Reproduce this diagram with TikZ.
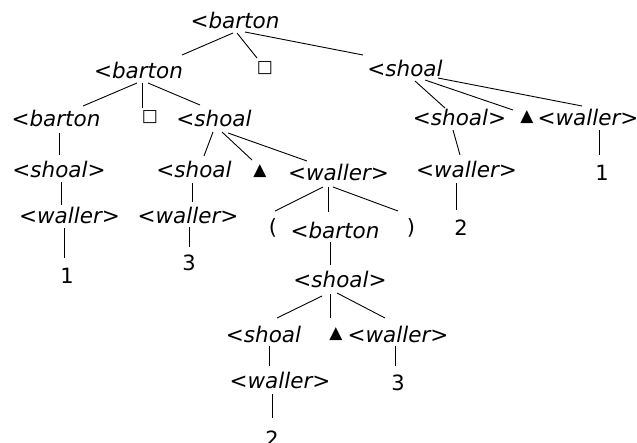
\documentclass[tikz,border=0pt]{standalone}
\usepackage{fontspec}
\setmainfont{DejaVu Sans}
\begin{document}
\begin{tikzpicture}[x=1pt,y=-1pt,
  lab/.style={inner sep=0pt,anchor=base,font=\fontsize{21.5}{25}\selectfont\itshape},
  num/.style={inner sep=0pt,anchor=base,font=\fontsize{21}{25}\selectfont},
  sym/.style={inner sep=0pt,anchor=center,font=\fontsize{17}{20}\selectfont},
  edge/.style={line width=0.9pt}]
\useasboundingbox (0,0) rectangle (637,442);
% nodes
\node[lab] (r) at (235,28) {<barton};
\node[lab] (a1) at (138.5,78) {<barton};
\node[sym] (sq1) at (265,68) {□};
\node[lab] (a2) at (405,76) {<shoal};
\node[lab] (b1) at (56,126) {<barton};
\node[sym] (sq2) at (150,117) {□};
\node[lab] (b2) at (214,126) {<shoal};
\node[lab] (b3) at (459.5,125) {<shoal>};
\node[sym] (tri1) at (527,117) {▲};
\node[lab] (b4) at (588,125) {<waller>};
\node[lab] (c1) at (59,177) {<shoal>};
\node[lab] (c2) at (194,177) {<shoal};
\node[sym] (tri2) at (260,171) {▲};
\node[lab] (c3) at (338.5,180) {<waller>};
\node[lab] (c4) at (466.5,177) {<waller>};
\node[num] (c5) at (602,180) {1};
\node[lab] (d1) at (69.5,223) {<waller>};
\node[lab] (d2) at (188,223) {<waller>};
\node[sym,font=\fontsize{21}{25}\selectfont] (d3) at (273,228) {(};
\node[lab] (d4) at (335,238) {<barton};
\node[sym,font=\fontsize{21}{25}\selectfont] (d5) at (411,228) {)};
\node[num] (d6) at (461,235) {2};
\node[num] (e1) at (67,283) {1};
\node[num] (e2) at (189,270) {3};
\node[lab] (e3) at (340,287) {<shoal>};
\node[lab] (f1) at (263.5,342) {<shoal};
\node[sym] (tri3) at (336,334) {▲};
\node[lab] (f2) at (398,342) {<waller>};
\node[lab] (g1) at (280,388) {<waller>};
\node[num] (g2) at (398,390) {3};
\node[num] (h1) at (272,446) {2};
% connectors
\draw[edge] ([shift={(-2,5)}]r.base) -- ([shift={(43.5,-23)}]a1.base);
\draw[edge] ([shift={(2,5)}]r.base) -- ([shift={(-8,-10)}]sq1.center);
\draw[edge] ([shift={(10,4)}]r.base) -- ([shift={(-42,-21)}]a2.base);
\draw[edge] ([shift={(-1.5,5)}]a1.base) -- ([shift={(27,-20)}]b1.base);
\draw[edge] ([shift={(3.5,5)}]a1.base) -- ([shift={(-8,-9)}]sq2.center);
\draw[edge] ([shift={(9.5,5)}]a1.base) -- ([shift={(-14,-21)}]b2.base);
\draw[edge] ([shift={(10,5)}]a2.base) -- ([shift={(-14.5,-17)}]b3.base);
\draw[edge] ([shift={(20,4)}]a2.base) -- ([shift={(-14,-7)}]tri1.center);
\draw[edge] ([shift={(33,2)}]a2.base) -- ([shift={(-6,-19)}]b4.base);
\draw[edge] ([shift={(3,7)}]b1.base) -- ([shift={(0,-22)}]c1.base);
\draw[edge] ([shift={(-1,6)}]b2.base) -- ([shift={(10,-21)}]c2.base);
\draw[edge] ([shift={(8,6)}]b2.base) -- ([shift={(-8,-11)}]tri2.center);
\draw[edge] ([shift={(14,7)}]b2.base) -- ([shift={(-31.5,-19)}]c3.base);
\draw[edge] ([shift={(-6.5,5)}]b3.base) -- ([shift={(-6.5,-22)}]c4.base);
\draw[edge] ([shift={(11,5)}]b4.base) -- ([shift={(-3,-25)}]c5.base);
\draw[edge] ([shift={(2,5)}]c1.base) -- ([shift={(-8.5,-18)}]d1.base);
\draw[edge] ([shift={(-2,6)}]c2.base) -- ([shift={(4,-21)}]d2.base);
\draw[edge] ([shift={(-15.5,7)}]c3.base) -- ([shift={(2,-17)}]d3.center);
\draw[edge] ([shift={(-10.5,7)}]c3.base) -- ([shift={(-7,-26)}]d4.base);
\draw[edge] ([shift={(-5.5,7)}]c3.base) -- ([shift={(-13,-17)}]d5.center);
\draw[edge] ([shift={(-10.5,6)}]c4.base) -- ([shift={(-5,-25)}]d6.base);
\draw[edge] ([shift={(-5.5,5)}]d1.base) -- ([shift={(-3,-25)}]e1.base);
\draw[edge] ([shift={(1,4)}]d2.base) -- ([shift={(0,-23)}]e2.base);
\draw[edge] ([shift={(-5,4)}]d4.base) -- ([shift={(-10,-22)}]e3.base);
\draw[edge] ([shift={(-18,9)}]e3.base) -- ([shift={(13.5,-24)}]f1.base);
\draw[edge] ([shift={(-10,7)}]e3.base) -- ([shift={(-6,-16)}]tri3.center);
\draw[edge] ([shift={(-3,6)}]e3.base) -- ([shift={(-13,-24)}]f2.base);
\draw[edge] ([shift={(5.5,4)}]f1.base) -- ([shift={(-11,-22)}]g1.base);
\draw[edge] ([shift={(-3,4)}]f2.base) -- ([shift={(-3,-24)}]g2.base);
\draw[edge] ([shift={(-8,6)}]g1.base) -- ([shift={(0,-28)}]h1.base);
\end{tikzpicture}
\end{document}
